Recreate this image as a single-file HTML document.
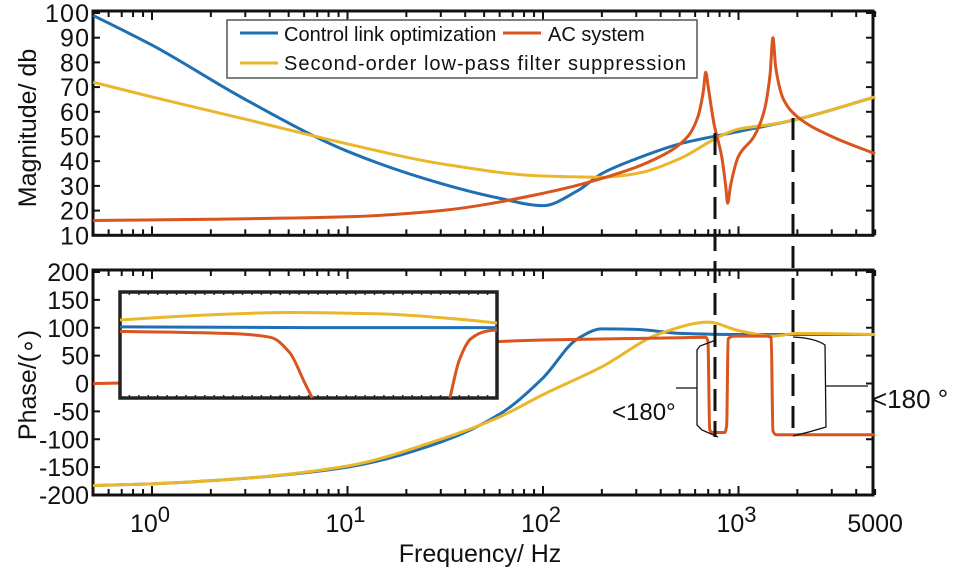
<!DOCTYPE html>
<html><head><meta charset="utf-8"><style>
body{margin:0;background:#fff}
svg{display:block;font-family:"Liberation Sans",sans-serif}
</style></head><body>
<svg id="chart" width="955" height="582" viewBox="0 0 955 582"></svg>
<script>
const magTicks=[10,20,30,40,50,60,70,80,90,100];
const phaseTicks=[-200,-150,-100,-50,0,50,100,150,200];
const blueMag=[[0.5,99],[1,87],[3,65],[10,44],[30,31],[60,25],[100,22],[150,28],[200,35],[300,41],[500,47],[1000,52],[2000,57],[5000,66]];
const yellowMag=[[0.5,72],[1,66],[3,57],[10,47],[30,39],[100,34],[200,33.5],[300,35],[500,41],[800,50],[1000,53],[1500,55],[2000,57],[5000,66]];
const redMag=[[0.5,16],[2,16.5],[10,17.5],[30,20],[100,27],[200,33],[400,42],[550,50],[620,58],[660,68],[680,76],[700,70],[750,55],[820,42],[860,30],[880,23],[910,30],[1000,42],[1200,50],[1350,60],[1450,75],[1500,90],[1550,78],[1700,65],[2000,58],[3000,50],[5000,43]];
const bluePhase=[[0.5,-183],[1,-180],[3,-170],[10,-150],[30,-105],[60,-55],[100,10],[150,80],[200,98],[300,97],[500,90],[1000,88],[5000,88]];
const yellowPhase=[[0.5,-183],[1,-180],[3,-170],[10,-148],[30,-100],[60,-60],[100,-20],[200,30],[400,90],[700,110],[1000,95],[1500,85],[2000,90],[5000,88]];
const redPhase=[[0.5,0],[0.7,1],[58,75],[100,78],[500,82],[680,83],[698,75],[712,-82],[730,-88],[850,-88],[870,-75],[885,80],[950,85],[1400,85],[1470,82],[1500,-85],[1560,-92],[5000,-92]];
const insetBlue=[[0,94],[0.5,93],[1,93]];
const insetYellow=[[0,103],[0.2,109],[0.45,113],[0.7,111],[0.9,104],[1,99]];
const insetRed=[[0,88],[0.3,85],[0.4,80],[0.45,60],[0.49,20],[0.51,0]];
const insetRed2=[[0.875,0],[0.9,50],[0.93,78],[0.97,88],[1,90]];
const NS='http://www.w3.org/2000/svg';
const svg=document.getElementById('chart');
function el(t,a,p){const e=document.createElementNS(NS,t);for(const k in a)e.setAttribute(k,a[k]);(p||svg).appendChild(e);return e;}
const X=f=>152+Math.log10(f)*195.5;
const Ym=v=>13+(100-v)*24.7/10;
const Yp=v=>272+(200-v)*(223/400);
function mono(pts){const n=pts.length,dx=[],s=[],m=[];
 for(let i=0;i<n-1;i++){dx[i]=pts[i+1][0]-pts[i][0];s[i]=(pts[i+1][1]-pts[i][1])/dx[i];}
 m[0]=s[0];m[n-1]=s[n-2];
 for(let i=1;i<n-1;i++){m[i]=(s[i-1]*s[i]<=0)?0:3*(dx[i-1]+dx[i])/((2*dx[i]+dx[i-1])/s[i-1]+(dx[i]+2*dx[i-1])/s[i]);}
 let d='M'+pts[0][0]+','+pts[0][1];
 for(let i=0;i<n-1;i++){const h=dx[i]/3;d+='C'+(pts[i][0]+h)+','+(pts[i][1]+m[i]*h)+' '+(pts[i+1][0]-h)+','+(pts[i+1][1]-m[i+1]*h)+' '+pts[i+1][0]+','+pts[i+1][1];}
 return d;}
function series(data,yf,color,name,xf){const p=el('path',{d:mono(data.map(d=>[(xf||X)(d[0]),yf(d[1])])),fill:'none',stroke:color,'stroke-width':3,'stroke-linejoin':'round'});

return p;}
function txt(x,y,s,a){const t=el('text',Object.assign({x:x,y:y,'font-size':22,fill:'#111'},a||{}));t.textContent=s;return t;}
const L=93,R=873;
el('rect',{x:L,y:11,width:R-L,height:Ym(10)-11,fill:'none',stroke:'#111','stroke-width':3,});
const decTicks=[];for(let e=-1;e<4;e++)for(let m=1;m<10;m++){const f=m*Math.pow(10,e);if(f>=0.5&&f<=5000)decTicks.push([f,m===1]);}
for(const [f,maj] of decTicks){const x=X(f),l=maj?9:6;
 el('line',{x1:x,x2:x,y1:Ym(10),y2:Ym(10)-l,stroke:'#111','stroke-width':2});el('line',{x1:x,x2:x,y1:11,y2:11+l,stroke:'#111','stroke-width':2});
 el('line',{x1:x,x2:x,y1:Yp(-200),y2:Yp(-200)-l,stroke:'#111','stroke-width':2});el('line',{x1:x,x2:x,y1:Yp(200)-2,y2:Yp(200)-2+l,stroke:'#111','stroke-width':2});}
for(const v of magTicks){const y=Ym(v);el('line',{x1:L,x2:L+7,y1:y,y2:y,stroke:'#111','stroke-width':2});el('line',{x1:R,x2:R-7,y1:y,y2:y,stroke:'#111','stroke-width':2});
 const t=txt(89,y+9,String(v),{'text-anchor':'end','font-size':25,'textLength':v===100?44:29});}
series(blueMag,Ym,'#1f6fb5','control-link-magnitude');
series(yellowMag,Ym,'#eab62a','lowpass-magnitude');
series(redMag,Ym,'#d9541e','ac-system-magnitude');
txt(0,0,'Magnitude/  db',{transform:'translate(36,128) rotate(-90)','text-anchor':'middle','font-size':25,});
const lg=el('g',{});
el('rect',{x:227,y:20,width:470,height:58,fill:'#fff',stroke:'#555','stroke-width':1.5},lg);
el('line',{x1:240,x2:278,y1:33,y2:33,stroke:'#1f6fb5','stroke-width':3},lg);
txt(284,41,'Control link optimization',{'font-size':20,});
el('line',{x1:503,x2:541,y1:33,y2:33,stroke:'#d9541e','stroke-width':3},lg);
txt(548,41,'AC system',{'font-size':20,});
el('line',{x1:240,x2:278,y1:63,y2:63,stroke:'#eab62a','stroke-width':3},lg);
txt(284,70,'Second-order low-pass filter suppression',{'font-size':20,'textLength':402,});
el('rect',{x:L,y:Yp(200)-2,width:R-L,height:Yp(-200)-Yp(200)+2,fill:'none',stroke:'#111','stroke-width':3,});
for(const v of phaseTicks){const y=Yp(v);el('line',{x1:L,x2:L+7,y1:y,y2:y,stroke:'#111','stroke-width':2});el('line',{x1:R,x2:R-7,y1:y,y2:y,stroke:'#111','stroke-width':2});
 const t=txt(89,y+9,String(v),{'text-anchor':'end','font-size':25});}
series(bluePhase,Yp,'#1f6fb5','control-link-phase');
series(yellowPhase,Yp,'#eab62a','lowpass-phase');
series(redPhase,Yp,'#d9541e','ac-system-phase');
txt(0,0,'Phase/(∘)',{transform:'translate(36,385) rotate(-90)','text-anchor':'middle','font-size':25,});
const xl=[[1,'10','0'],[10,'10','1'],[100,'10','2'],[1000,'10','3']];
for(const [f,b,e] of xl){const t=txt(X(f)-2,532,b,{'text-anchor':'middle','font-size':25,});const s=el('tspan',{dy:-10,'font-size':22},t);s.textContent=e;}
txt(X(5000),532,'5000',{'text-anchor':'middle','font-size':25,});
txt(480,562,'Frequency/ Hz',{'text-anchor':'middle','font-size':25,});
const ix0=120,ix1=497,iy0=292,iy1=398;
const IX=u=>ix0+u*(ix1-ix0),IY=v=>iy1-(v/140)*(iy1-iy0);
el('rect',{x:ix0,y:iy0,width:ix1-ix0,height:iy1-iy0,fill:'#fff',stroke:'#222','stroke-width':3.5,});
for(let i=0;i<=40;i++){const x=ix0+i*(ix1-ix0)/40;el('line',{x1:x,x2:x,y1:iy0,y2:iy0+3,stroke:'#222','stroke-width':1.5});el('line',{x1:x,x2:x,y1:iy1,y2:iy1-3,stroke:'#222','stroke-width':1.5});}
series(insetYellow,IY,'#eab62a','inset-lowpass-phase',IX);
series(insetBlue,IY,'#1f6fb5','inset-control-link-phase',IX);
series(insetRed,IY,'#d9541e','inset-ac-phase-a',IX);
series(insetRed2,IY,'#d9541e','inset-ac-phase-b',IX);
el('line',{x1:715,x2:715,y1:133,y2:437,stroke:'#111','stroke-width':3,'stroke-dasharray':'22,10',});
el('line',{x1:793,x2:793,y1:118,y2:438,stroke:'#111','stroke-width':3,'stroke-dasharray':'22,10',});
el('path',{d:'M716,340 L700,346 L697,350 L697,425 L702,430 L718,437',fill:'none',stroke:'#111','stroke-width':1.3,});
el('line',{x1:676,x2:697,y1:388,y2:388,stroke:'#111','stroke-width':1.3});
el('path',{d:'M793,337 Q815,338 825,345 L826,427 Q810,432 793,436',fill:'none',stroke:'#111','stroke-width':1.3,});
el('line',{x1:826,x2:868,y1:386,y2:386,stroke:'#111','stroke-width':1.3});
txt(612,420,'<180°',{'font-size':24,});
txt(872,408,'<180 °',{'font-size':26,});
</script>
</body></html>
